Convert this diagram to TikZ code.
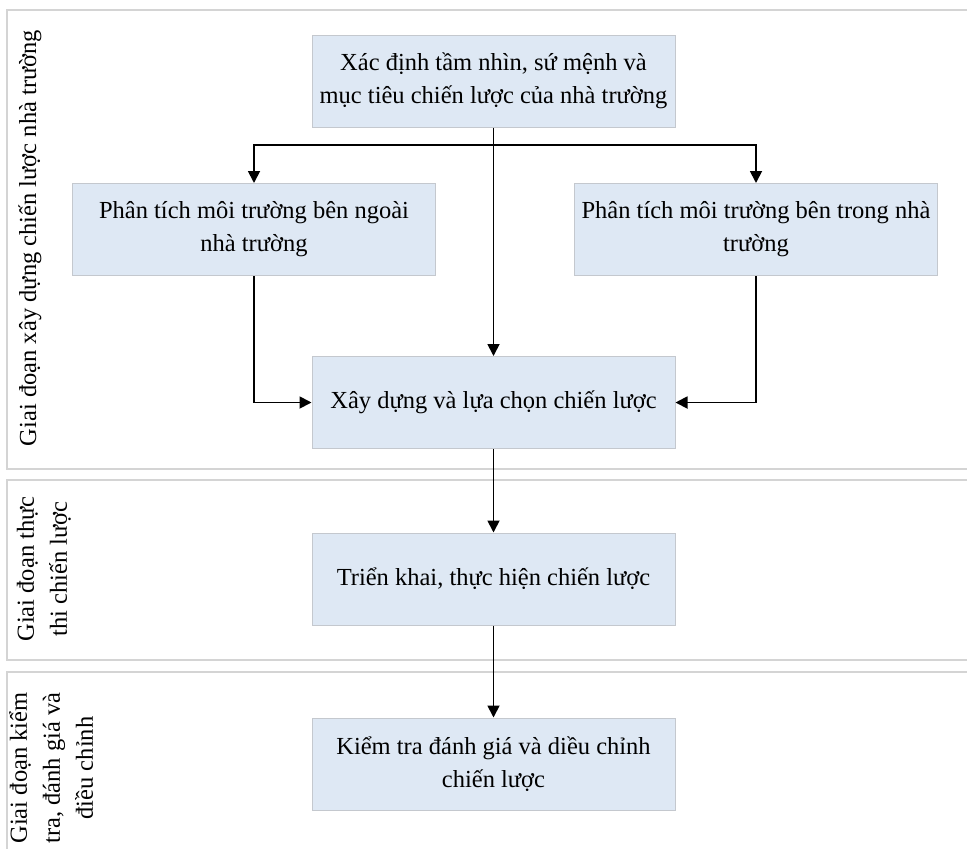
\documentclass[tikz,border=0pt]{standalone}
\usepackage{fontspec}
\setmainfont{Liberation Serif}
\usepackage{tikz}
\usetikzlibrary{arrows.meta}

\definecolor{boxfill}{RGB}{222,232,244}
\definecolor{boxline}{RGB}{196,200,206}
\definecolor{laneline}{RGB}{212,212,212}

\begin{document}
\begin{tikzpicture}[x=1pt,y=-1pt,
		font=\fontsize{24.5}{33}\selectfont,
		stepbox/.style={draw=boxline,fill=boxfill,line width=1pt,minimum width=363pt,minimum height=92pt,inner sep=0pt,align=center},
		lane/.style={draw=laneline,line width=1.5pt},
		lanelabel/.style={rotate=90,align=center,inner sep=0pt},
		arr/.style={-{Triangle[length=12pt,width=12pt]},line width=1.8pt}]
	\useasboundingbox (0,0) rectangle (967,849);
	\clip (0,0) rectangle (967,849);
	% phases
	\draw[lane] (7,10) rectangle (990,469);
	\draw[lane] (7,480) rectangle (990,660);
	\draw[lane] (7,672) rectangle (990,870);
	\node[lanelabel] (p1) at (30,238) {Giai đoạn xây dựng chiến lược nhà trường};
	\node[lanelabel] (p2) at (44,569) {Giai đoạn thực\\thi chiến lược};
	\node[lanelabel] (p3) at (51,768) {Giai đoạn kiểm\\tra, đánh giá và\\điều chỉnh};
	% steps
	\node[stepbox] (muctieu) at (493.5,81) {Xác định tầm nhìn, sứ mệnh và\\mục tiêu chiến lược của nhà trường};
	\node[stepbox] (ngoai) at (254,229.5) {Phân tích môi trường bên ngoài\\nhà trường};
	\node[stepbox] (trong) at (756,229.5) {Phân tích môi trường bên trong nhà\\trường};
	\node[stepbox] (xaydung) at (493.5,402.5) {Xây dựng và lựa chọn chiến lược};
	\node[stepbox] (trienkhai) at (493.5,579) {Triển khai, thực hiện chiến lược};
	\node[stepbox] (kiemtra) at (493.5,764) {Kiểm tra đánh giá và diều chỉnh\\chiến lược};
	\coordinate (tach) at (493.5,145);
	% arrows
	\draw[arr] (muctieu) -- (xaydung);
	\draw[arr] (tach) -| (ngoai);
	\draw[arr] (tach) -| (trong);
	\draw[arr] (ngoai) |- (xaydung);
	\draw[arr] (trong) |- (xaydung);
	\draw[arr] (xaydung) -- (trienkhai);
	\draw[arr] (trienkhai) -- (kiemtra);
\end{tikzpicture}
\end{document}
